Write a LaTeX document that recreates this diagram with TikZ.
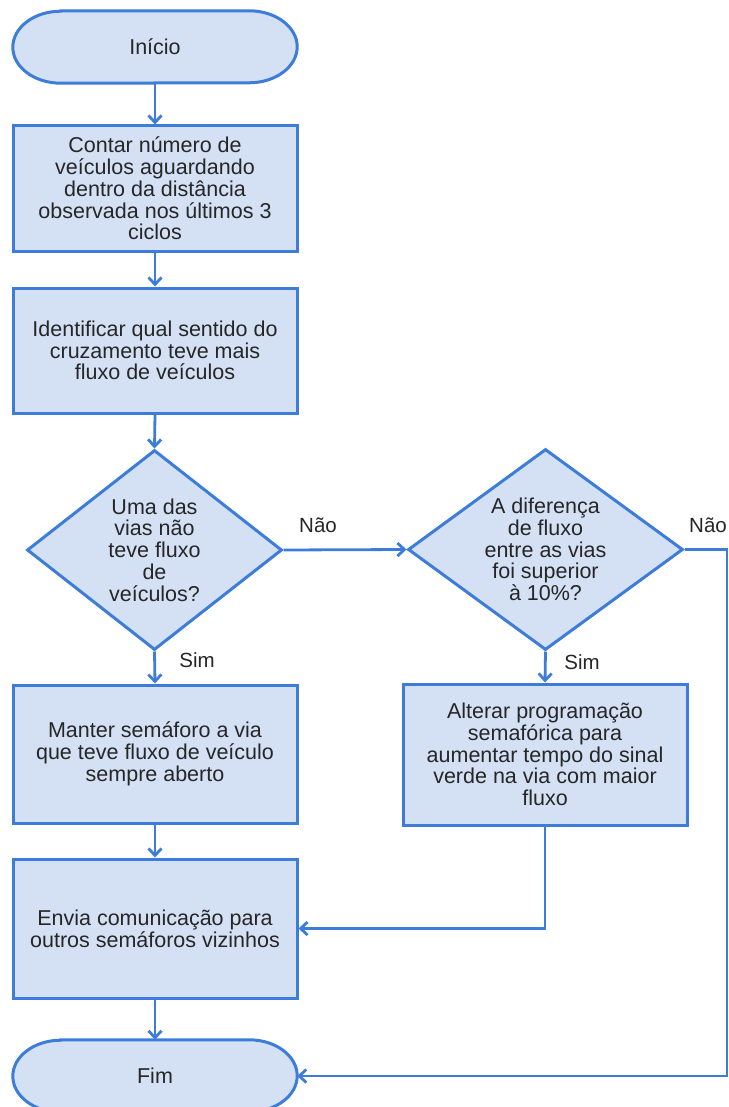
\documentclass[tikz,border=0pt]{standalone}
\usepackage{fontspec}
\setmainfont{Liberation Sans}
\usetikzlibrary{shapes.geometric,arrows.meta,backgrounds}
\definecolor{fc}{HTML}{D4E1F5}
\definecolor{lc}{HTML}{3D7DD9}
\definecolor{tc}{HTML}{262626}
\tikzset{
 txt/.style={font=\fontsize{21.5}{21.8}\selectfont, text=tc, align=center},
 box/.style={txt, draw=lc, fill=fc, line width=3pt, minimum width=284pt, inner sep=0pt},
 dia/.style={diamond, draw=lc, fill=fc, line width=3pt, inner sep=0pt},
 term/.style={txt, minimum width=284pt, minimum height=72pt, inner sep=0pt},
 pill/.style={draw=lc, fill=fc, line width=3pt},
 arr/.style={draw=lc, line width=2.8pt, -{Straight Barb[length=7pt,width=13pt]}},
 lab/.style={font=\fontsize{20.5}{22}\selectfont, text=tc, inner sep=0pt},
}
\newcommand{\pillof}[1]{%
 \begin{scope}[on background layer]
 \path[pill] ([xshift=48pt]#1.north west) -- ([xshift=-48pt]#1.north east)
   arc[start angle=90,end angle=-90,x radius=48pt,y radius=36pt]
   -- ([xshift=48pt]#1.south west)
   arc[start angle=270,end angle=90,x radius=48pt,y radius=36pt] -- cycle;
 \end{scope}}
\begin{document}
\begin{tikzpicture}[x=1pt,y=1pt]
\begin{scope}[on background layer]
\fill[white] (0,0) rectangle (728,-1107);
\end{scope}
\useasboundingbox (0,0) rectangle (728,-1107);

\node[term] (ini) at (155,-47) {Início};
\pillof{ini}
\node[box, minimum height=125pt] (b1) at (155,-188.5) {Contar número de\\veículos aguardando\\dentro da distância\\observada nos últimos 3\\ciclos};
\node[box, minimum height=125pt] (b2) at (155,-350.5) {Identificar qual sentido do\\cruzamento teve mais\\fluxo de veículos};
\node[dia, minimum width=255pt, minimum height=200pt,
  label={[txt]center:{Uma das\\vias não\\teve fluxo\\de\\veículos?}}] (d1) at (154.5,-550) {};
\node[dia, minimum width=275pt, minimum height=201pt,
  label={[txt]center:{A diferença\\de fluxo\\entre as vias\\foi superior\\à 10\%?}}] (d2) at (545.5,-549.5) {};
\node[box, minimum height=138pt] (b3) at (155,-754) {Manter semáforo a via\\que teve fluxo de veículo\\sempre aberto};
\node[box, minimum height=141pt] (b4) at (545,-754.5) {Alterar programação\\semafórica para\\aumentar tempo do sinal\\verde na via com maior\\fluxo};
\node[box, minimum height=139pt] (b5) at (155,-928.5) {Envia comunicação para\\outros semáforos vizinhos};
\node[term] (fim) at (155,-1076) {Fim};
\pillof{fim}

\coordinate (r1) at (727,-549.5);
\coordinate (r2) at (727,-1076);

\draw[arr] (ini.south) -- (b1.north);
\draw[arr] (b1.south) -- (b2.north);
\draw[arr] (b2.south) -- (d1.north);
\draw[arr] (d1.east) -- (d2.west);
\draw[arr] (d1.south) -- (b3.north);
\draw[arr] (d2.south) -- (b4.north);
\draw[arr] (b3.south) -- (b5.north);
\draw[arr] (b4.south) |- (b5.east);
\draw[arr] (b5.south) -- (fim.north);
\draw[arr] (d2.east) -- (r1) -- (r2) -- (fim.east);

\node[lab] (l1) at (318,-525) {Não};
\node[lab] (l2) at (197,-660) {Sim};
\node[lab] (l3) at (582,-662) {Sim};
\node[lab, anchor=west] (l4) at (689,-525) {Não};
\end{tikzpicture}
\end{document}
